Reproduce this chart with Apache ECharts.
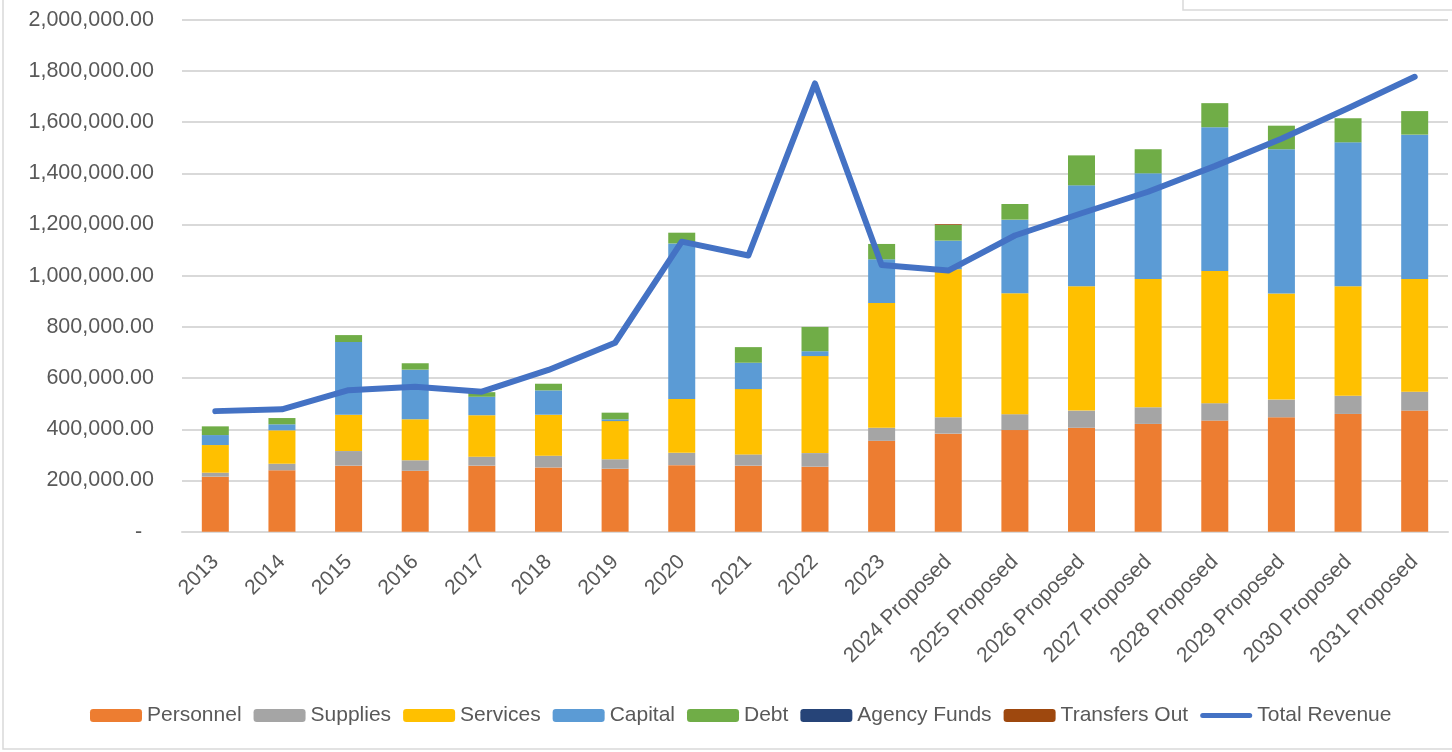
<!DOCTYPE html>
<html>
<head>
<meta charset="utf-8">
<script src="https://cdn.jsdelivr.net/npm/echarts@6/dist/echarts.min.js"></script>
<style>
  html, body { margin: 0; padding: 0; background: #fff; }
  #main { width: 1452px; height: 752px; }
</style>
</head>
<body>
<div id="main"></div>
<script>
// 年份
var years = ['2013', '2014', '2015', '2016', '2017', '2018', '2019', '2020', '2021', '2022', '2023',
  '2024 Proposed', '2025 Proposed', '2026 Proposed', '2027 Proposed', '2028 Proposed',
  '2029 Proposed', '2030 Proposed', '2031 Proposed'];

// 支出各项
var personnel = [215000, 240000, 258000, 238000, 258000, 251000, 246000, 260000, 258000, 254000, 355000,
  383000, 397000, 406000, 421000, 434000, 447000, 460000, 473000];
var supplies = [15500, 25600, 57000, 41000, 35000, 46000, 37000, 48000, 44000, 53000, 51000,
  64000, 62000, 67000, 65000, 68000, 69000, 71000, 74000];
var services = [108000, 130400, 142000, 160000, 162000, 160000, 149000, 210000, 255000, 379000, 487000,
  578000, 472000, 486000, 501000, 516000, 414000, 428000, 440000];
var capital = [39000, 23500, 284000, 194000, 72000, 95000, 7000, 608000, 103000, 19000, 171000,
  112000, 288000, 394000, 413000, 562000, 564000, 562000, 564000];
var debt = [34000, 24500, 27000, 25000, 18000, 26000, 26000, 42000, 61000, 95000, 60000,
  61000, 61000, 117000, 94000, 94000, 92000, 94000, 92000];
var agencyFunds = [0, 0, 0, 0, 0, 0, 0, 0, 0, 0, 0, 0, 0, 0, 0, 0, 0, 0, 0];
var transfersOut = [0, 0, 0, 0, 0, 0, 0, 0, 0, 0, 0, 3000, 0, 0, 0, 0, 0, 0, 0];

// 收入
var totalRevenue = [471000, 478000, 553000, 566000, 547000, 632000, 738000, 1133000, 1079000, 1751000, 1042000,
  1020000, 1157000, 1244000, 1328000, 1428000, 1535000, 1654000, 1777000];

var font = 'Liberation Sans, Arial, sans-serif';

// 图例里的粗线图标
var lineIcon = 'path://M0,0 M52,13 M2.5,4 L49.5,4 A2.5,2.5 0 0 1 49.5,9 L2.5,9 A2.5,2.5 0 0 1 2.5,4 Z';

function money(v) {
  if (v === 0) return '-  ';
  return v.toLocaleString('en-US', { minimumFractionDigits: 2, maximumFractionDigits: 2 });
}

function barSeries(name, data, color) {
  return {
    name: name,
    type: 'bar',
    stack: 'spend',
    barWidth: 27,
    itemStyle: { color: color },
    emphasis: { disabled: true },
    data: data
  };
}

var myChart = echarts.init(document.getElementById('main'));
var option = {
  animation: false,
  backgroundColor: '#fff',
  graphic: [
    {
      type: 'rect',
      shape: { x: 3, y: -10, width: 1460, height: 759 },
      style: { fill: 'none', stroke: '#d9d9d9', lineWidth: 1.5 },
      silent: true
    },
    {
      type: 'rect',
      shape: { x: 1183, y: -10, width: 300, height: 20 },
      style: { fill: 'none', stroke: '#d9d9d9', lineWidth: 1.5 },
      silent: true
    }
  ],
  legend: {
    left: 85,
    top: 700,
    itemWidth: 52,
    itemHeight: 13,
    itemGap: 12,
    textStyle: { fontFamily: font, fontSize: 21, color: '#595959' },
    data: ['Personnel', 'Supplies', 'Services', 'Capital', 'Debt', 'Agency Funds', 'Transfers Out',
      { name: 'Total Revenue', icon: lineIcon }]
  },
  grid: {
    left: 182,
    right: 4,
    top: 19.7,
    bottom: 220.3,
    containLabel: false
  },
  xAxis: {
    type: 'category',
    data: years,
    axisTick: { show: false },
    axisLine: { lineStyle: { color: '#d9d9d9', width: 2 } },
    axisLabel: {
      rotate: 45,
      margin: 27,
      interval: 0,
      fontFamily: font,
      fontSize: 21,
      color: '#595959'
    }
  },
  yAxis: {
    type: 'value',
    min: 0,
    max: 2000000,
    interval: 200000,
    axisLine: { show: false },
    axisTick: { show: false },
    splitLine: { lineStyle: { color: '#d9d9d9', width: 2 } },
    axisLabel: {
      margin: 28,
      fontFamily: font,
      fontSize: 21.5,
      color: '#595959',
      formatter: money
    }
  },
  series: [
    barSeries('Personnel', personnel, '#ED7D31'),
    barSeries('Supplies', supplies, '#A5A5A5'),
    barSeries('Services', services, '#FFC000'),
    barSeries('Capital', capital, '#5B9BD5'),
    barSeries('Debt', debt, '#70AD47'),
    barSeries('Agency Funds', agencyFunds, '#264478'),
    barSeries('Transfers Out', transfersOut, '#9E480E'),
    {
      name: 'Total Revenue',
      type: 'line',
      symbol: 'none',
      showSymbol: false,
      lineStyle: { color: '#4472C4', width: 6, cap: 'round', join: 'round' },
      itemStyle: { color: '#4472C4' },
      emphasis: { disabled: true },
      z: 5,
      data: totalRevenue
    }
  ]
};
myChart.setOption(option);
window.onresize = myChart.resize;
</script>
</body>
</html>
